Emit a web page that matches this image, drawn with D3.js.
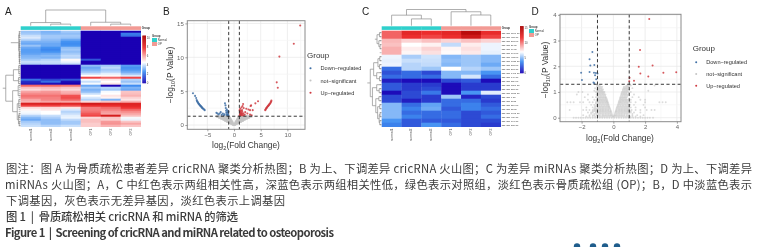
<!DOCTYPE html>
<html lang="en">
<head>
<meta charset="UTF-8">
<title>Figure 1</title>
<style>
  body { margin: 0; background: #fff; overflow: hidden; }
  svg { display: block; }
  text { font-family: "Liberation Sans", Arial, sans-serif; }
  .cap { font-family: "Noto Sans CJK SC", "Open Sans", sans-serif; font-size: 11.3px; fill: #3a3a3a; }
  .plots { filter: blur(0.5px); }
</style>
<script src="https://d3js.org/d3.v7.min.js"></script>
</head>
<body>
<svg id="fig" width="761" height="247"></svg>
<script>
const groupNames = ["Normal", "OP"];
const groupColors = ["#2fd0cc", "#f29a94"];
const volcanoGroups = ["Down\u2212regulated", "not\u2212significant", "Up\u2212regulated"];
const volcanoColors = ["#3f6fa5", "#c4c4c4", "#cf3a40"];

const colsA = ["normal1", "normal2", "normal3", "OP1", "OP2", "OP3"];
const colsC = ["normal1", "normal2", "normal3", "OP1", "OP2", "OP3"];

const heatA = [
  [3.5,3.2,3.6,0,0,0],[3.6,3.3,3.4,0,0,2.2],[4,3.6,3.6,0,0,2],[4.2,3.6,3.5,0,0,0],
  [3.8,3.4,3,0,0,0],[3.2,3.2,2.6,0,0,0],[3,3,2.5,0,0,0],[3.5,3,2.6,0,0,0],
  [3,2.6,3.4,0,0,0],[2.8,2.4,3.6,0,0,0],[2.8,2.6,3.4,0,0,0],[2.9,3,3.6,0,0,0],
  [3.2,3.3,3.9,0,0,0],[3.3,3.2,3.8,0,0,0],[3.6,3.8,4.7,1.5,0,0],[4,4,4.4,0,0,0],
  [3.8,3.9,4,0,0,0],[0,0,0,3.4,3.6,2.8],[0,0,0,3,3.9,2.6],[0,0,0,3.2,3.6,2.7],
  [0,0,0,3.5,3.8,3],[0,0,0,4,4.3,3.5],[0,0,0,4.6,4.7,4.2],[0,0,0,7.5,7,7.5],
  [2,1.2,1.5,4.5,5,3.8],[0.8,2,0.3,4,4.6,3.5],[0.5,0.3,0,4.5,5,4],[7,7,6.8,3,0,2.5],
  [5.6,5.7,5.5,3.6,3.8,3.2],[5.2,5.4,5.2,3.2,3.6,3],[6,6.2,5.8,3.4,4.5,5.5],[6.4,6.4,6,4,4.6,5.6],
  [6.8,6.8,7.3,4.6,5,5.8],[6.6,6.6,7.4,4.2,4.8,5.3],[6,6.5,7,3.8,3.2,5],[5.8,6,6,5.2,5.5,5.8],
  [8.6,8.6,8.4,9,8.6,8.4],[7.6,7.6,7.4,8,8,8.3],[5.2,5.2,5,6.6,6.9,7.8],[4.8,5,4.2,6.6,6.6,7],
  [4.5,4.6,3.8,6.8,6.2,6.4],[4.4,4.6,4,7.2,6,6],[3.8,4,4.3,7.5,8.8,5.6],[3.3,3.7,4.4,5.2,5.5,4.5],
  [3,3.4,3.9,5.6,5.4,4.4],[3.6,3.4,3.6,5.6,6.2,5.5],[3.8,3.4,3.6,5.4,6.3,6],[4,3.8,4,5.4,5.8,5.5]
];

const heatC = [
  [10.5,12.3,11.8,12.3,14.5,12],[10.5,11.8,11.2,11.8,13.5,11.3],[8.6,8,8.4,8,8.4,8],[8.4,7,7.3,6,7.4,6.7],
  [8.8,7.4,8,7.2,7.7,6.7],[8.8,7.2,7.7,7.1,7.5,6.6],[6.7,5.6,6.2,5,5.4,5],[6.6,6.1,6.1,5.2,5.4,5],
  [6.7,5.8,6,5,5.4,4.6],[3,5.8,5.4,7,5.8,5.4],[2.2,2.9,2,5,5,4],[2.9,2.9,2.9,5,6.3,2.9],
  [0.8,0.3,0.3,2,2.4,0.3],[2.4,1.6,1.6,0.3,1.6,1.6],[2.4,1.6,2,0.3,1.6,1.6],[0.3,2,3.2,0.3,4,6.5],
  [2,2,1.6,5.4,1,2],[2,0.8,1.6,2.9,2.9,1.6],[5,2.9,4.4,2.9,3.5,2.4],[5,3.5,4.6,2.4,3.5,2.9],
  [5,2.9,2.9,2.9,2,2.4],[5,3.5,2.9,2.9,2,2.9],[4,2.4,2.4,2.4,2,2],[3.5,2.4,4,2.9,2,1.6]
];

const rowsC = [
  "hsa-miR-1246-5p","hsa-miR-92a-3p","hsa-miR-26a-5p","hsa-miR-21-5p","hsa-miR-16-5p","hsa-miR-191-5p",
  "hsa-miR-423-5p","hsa-miR-103a-3p","hsa-miR-30d-5p","hsa-miR-27a-3p","hsa-miR-146a-5p","hsa-miR-140-3p",
  "hsa-miR-339-5p","hsa-miR-1307-3p","hsa-miR-221-3p","hsa-miR-151a-3p","hsa-miR-7-5p","hsa-miR-3615",
  "hsa-miR-324-5p","hsa-miR-32-5p","hsa-miR-1908-5p","hsa-miR-486-3p","hsa-miR-197-3p","hsa-miR-365-3p"
];

// dendrograms: [height, left, right], a plain number is a leaf
const topTreeA = [1, [0.2, 0, [0.1, 1, 2]], [0.22, 3, [0.1, 4, 5]]];
const topTreeC = [1, [0.65, 0, [0.42, 1, 2]], [0.86, 3, [0.66, 4, 5]]];
const rowTreesA = [
  [0.62, [0.1, [0.06, 0, 3], [0.07, [0.05, 4, 8], [0.06, [0.04, 10, 12], [0.05, 14, 16]]]]],
  [0.95, [0.45, [0.1, 17, 21], [0.12, 23, 26]], [0.5, [0.14, 27, 32], [0.2, [0.1, 34, 38], [0.12, [0.08, 41, 43], [0.07, 45, 47]]]]]
];
const rowTreesC = [
  [0.42, [0.28, [0.12, 0, 1], [0.16, 2, [0.08, 3, 4]]]],
  [0.72, [0.5, [0.22, [0.1, 6, 7], [0.12, 8, 9]], [0.3, 10, [0.12, 11, 12]]],
         [0.58, [0.3, 13, [0.14, 14, 15]], [0.36, [0.16, 16, 17], [0.24, [0.1, 18, 19], [0.14, [0.08, 20, 21], [0.1, 22, 23]]]]]]
];

const legendTicksA = [0, 2, 4, 6, 8, 10];
const legendTicksC = [0, 5, 10, 15];

const downB = [[-7.7,4.7],[-7.3,4.3],[-7.1,4],[-7,3.7],[-6.95,3.55],[-6.85,3.45],[-6.8,3.35],[-6.7,3.25],[-6.65,3.15],[-6.55,3.1],[-6.5,3],[-6.4,2.95],[-6.35,2.85],[-6.25,2.8],[-6.2,2.75],[-6.1,2.65],[-6,2.6],[-5.95,2.5],[-5.85,2.45],[-5.75,2.4],[-5.6,2.3],[-5.5,2.2],
  [-3.3,1.8],[-3.1,1.7],[-2.9,1.55],[-2.7,1.7],[-2.5,1.9],[-2.3,1.5],[-2.1,1.7],[-1.9,1.45],[-1.8,1.6],[-1.7,3.2],[-1.6,2.9],[-1.55,2.5],[-1.5,2.1],[-1.45,1.8],[-1.4,1.5],[-1.35,2.3],[-1.3,1.9],[-1.25,1.6],[-1.2,1.45],[-1.15,2.1],[-1.1,1.8],[-1.1,1.55],[-1.05,2],[-1.05,1.4]];
const upB = [[12.4,14.7],[11.2,12],[8.5,10.1],[8,6.3],[8.2,5.5],[7,3.6],[6.95,3.45],[6.85,3.35],[6.8,3.2],[6.7,3.15],[6.6,3.05],[6.55,2.95],[6.45,2.9],[6.4,2.8],[6.3,2.75],[6.2,2.65],[6.15,2.55],[6.05,2.5],[6,2.4],[5.9,2.3],[5.85,2.2],
  [4.5,3.5],[4,3.2],[3.2,2.9],[3.1,2.8],[3.5,2.2],[3,2.2],[2.7,2.3],[2.5,1.7],[2.3,2.4],[2.1,1.9],[3,1.55],[3.3,1.45],[1.7,3.1],[1.6,2.8],[1.8,2.5],[1.5,2.2],[1.4,2.6],[1.3,2.1],[1.25,1.8],[1.2,1.5],[1.15,2.4],[1.1,1.95],[1.1,1.6],[1.05,2.2],[1.05,1.4],[1.4,1.75],[1.6,1.6],[1.8,1.45],[1.35,1.5],[2,1.55],[1.5,1.4],[1.25,1.95],[1.55,1.95],[1.3,1.65],[1.7,1.75],[1.15,1.7]];
// grey points by level: [y, [x, ...]]
const greyLevelsB = [
  [1.25,[-3.2,-3,-2.75,-2.5,-2.25,-2,-1.75,-1.5,-1.25,-1,1,1.25,1.5,1.75,2,2.25,2.5,2.75,3,3.25]],
  [1.1,[-2.8,-2.55,-2.3,-2.05,-1.8,-1.55,-1.3,-1.05,-0.85,0.85,1.05,1.3,1.55,1.8,2.05,2.3,2.55,2.8]],
  [0.95,[-2.4,-2.15,-1.9,-1.65,-1.4,-1.15,-0.95,-0.75,0.75,0.95,1.15,1.4,1.65,1.9,2.15,2.4]],
  [0.8,[-2,-1.75,-1.5,-1.25,-1,-0.8,-0.62,0.62,0.8,1,1.25,1.5,1.75,2]],
  [0.65,[-1.65,-1.4,-1.15,-0.95,-0.72,-0.5,0.5,0.72,0.95,1.15,1.4,1.65]],
  [0.5,[-1.3,-1.05,-0.85,-0.6,-0.4,0.4,0.6,0.85,1.05,1.3]],
  [0.35,[-0.9,-0.7,-0.5,-0.3,0.3,0.5,0.7,0.9]],
  [0.2,[-0.55,-0.35,-0.15,0.15,0.35,0.55]],
  [0.05,[-0.2,0,0.2]]
];

const downD = [[-1.32,2.55],[-1.5,2.27],[-1.2,2.05],[-1.45,2.03],[-2.03,1.75],[-1.5,1.78],[-1.22,1.75],[-1.1,1.74],[-1,1.72],[-1.15,1.65],[-1.98,1.47],[-1.08,1.5],[-1.25,1.37],[-1.2,1.34]];
const upD = [[2.26,3.84],[1.68,2.63],[2.47,2.03],[1.6,1.98],[3.15,1.75],[3.96,1.77],[1.7,1.72],[2.2,1.6],[1.02,1.55],[1.3,1.44],[1,1.42]];
const greyLevelsD = [
  [1.25,[-1.02,-0.94,-0.86,0.82,0.9,1,1.1,2.6]],
  [1.2,[-1.02,-0.94,-0.86,-0.78,-0.7,0.66,0.74,0.82,0.9,0.98]],
  [1.15,[-1.15,-0.98,-0.9,-0.82,-0.74,0.64,0.72,0.8,0.88,1.2]],
  [1.1,[-1.05,-0.97,-0.89,-0.81,-0.73,-0.65,0.6,0.68,0.76,0.84,0.92,1]],
  [1.05,[-1.2,-1,-0.92,-0.84,-0.76,-0.68,0.6,0.7,0.8,0.88,2.2]],
  [1,[-2.2,-1.95,-1.1,-1.02,-0.94,-0.86,-0.78,-0.7,-0.62,-0.56,0.54,0.62,0.7,0.78,0.86,0.94,1.1]],
  [0.95,[-1,-0.9,-0.8,-0.7,-0.6,0.52,0.62,0.72,0.82]],
  [0.9,[-2.3,-1.6,-1.06,-0.98,-0.9,-0.82,-0.74,-0.66,-0.58,-0.5,0.5,0.58,0.66,0.74,0.82,0.9,1.3]],
  [0.85,[-1.02,-0.92,-0.82,-0.72,-0.62,-0.52,0.48,0.58,0.68,0.78,0.88]],
  [0.8,[-1.8,-1.3,-1.1,-1,-0.92,-0.84,-0.76,-0.68,-0.6,-0.52,-0.46,0.44,0.52,0.6,0.68,0.76,0.84,1.2,1.6]],
  [0.75,[-1,-0.9,-0.8,-0.7,-0.6,-0.5,-0.43,0.42,0.5,0.6,0.7,0.8]],
  [0.7,[-1.6,-1.2,-1.05,-0.96,-0.88,-0.8,-0.72,-0.64,-0.56,-0.48,-0.4,0.4,0.48,0.56,0.64,0.72,0.8,0.88,1.1,1.7,2]],
  [0.65,[-1.05,-0.95,-0.85,-0.75,-0.65,-0.55,-0.45,-0.38,0.36,0.45,0.55,0.65,0.75,0.85]],
  [0.6,[-2.9,-2.7,-2.5,-2.1,-1.9,-1.5,-1.3,-1.1,-1,-0.9,-0.8,-0.7,-0.6,-0.5,-0.42,-0.35,0.34,0.42,0.5,0.6,0.7,0.8,0.9,1,1.1,1.4,2,2.9,3.1,3.3]],
  [0.55,[-1.1,-1,-0.9,-0.8,-0.7,-0.6,-0.5,-0.4,-0.32,0.32,0.4,0.5,0.6,0.7,0.8,0.9]],
  [0.5,[-1.4,-1.2,-1.05,-0.95,-0.85,-0.75,-0.65,-0.55,-0.45,-0.36,-0.3,0.28,0.36,0.46,0.56,0.66,0.76,0.86,0.96,1.05,1.3,1.9]],
  [0.45,[-1.15,-1.05,-0.95,-0.85,-0.75,-0.65,-0.55,-0.45,-0.35,-0.27,0.26,0.35,0.45,0.55,0.65,0.75,0.85,0.95]],
  [0.4,[-1.7,-1.3,-1.15,-1,-0.9,-0.8,-0.7,-0.6,-0.5,-0.4,-0.3,-0.24,0.22,0.3,0.4,0.5,0.6,0.7,0.8,0.9,1,1.1,1.4,2]],
  [0.35,[-1.2,-1.1,-1,-0.9,-0.8,-0.7,-0.6,-0.5,-0.4,-0.3,-0.21,0.2,0.3,0.4,0.5,0.6,0.7,0.8,0.9,1]],
  [0.3,[-2.75,-1.9,-1.7,-1.5,-1.3,-1.2,-1.1,-1,-0.9,-0.8,-0.7,-0.6,-0.5,-0.4,-0.3,-0.18,0.18,0.3,0.4,0.5,0.6,0.7,0.8,0.9,1,1.15,1.4,1.7,2.1,2.4,2.6]],
  [0.25,[-1.3,-1.2,-1.1,-1,-0.9,-0.8,-0.7,-0.6,-0.5,-0.4,-0.3,-0.2,-0.15,0.15,0.2,0.3,0.4,0.5,0.6,0.7,0.8,0.9,1,1.1]],
  [0.2,[-1.6,-1.4,-1.3,-1.1,-1,-0.9,-0.8,-0.7,-0.6,-0.5,-0.4,-0.3,-0.2,-0.12,0.12,0.2,0.3,0.4,0.5,0.6,0.7,0.8,0.9,1.1,1.3,1.7]],
  [0.15,[-1.4,-1.2,-1.1,-1,-0.9,-0.8,-0.7,-0.6,-0.5,-0.4,-0.3,-0.2,-0.1,0.1,0.2,0.3,0.4,0.5,0.6,0.7,0.8,0.9,1,1.2]],
  [0.1,[-1.9,-1.5,-1.3,-1.2,-1.05,-0.95,-0.85,-0.7,-0.6,-0.5,-0.4,-0.3,-0.2,-0.13,-0.06,0.06,0.12,0.2,0.3,0.4,0.5,0.6,0.7,0.85,1,1.2,1.5,1.9]],
  [0.05,[-1.7,-1.5,-1.3,-1.15,-1,-0.9,-0.8,-0.7,-0.6,-0.5,-0.4,-0.3,-0.2,-0.1,-0.03,0.03,0.1,0.2,0.3,0.4,0.5,0.6,0.7,0.8,0.9,1.05,1.2,1.4,1.7]],
  [0,[-2.5,-2.35,-2.2,-2.05,-1.9,-1.75,-1.6,-1.45,-1.3,-1.15,-1,-0.85,-0.7,-0.55,-0.4,-0.25,-0.1,0.05,0.2,0.35,0.5,0.65,0.8,0.95,1.1,1.25,1.4,1.55,1.7,1.85,2,2.15,2.3,2.5]]
];

const captionLines = [
  "图注：图 A 为骨质疏松患者差异 cricRNA 聚类分析热图；B 为上、下调差异 cricRNA 火山图；C 为差异 miRNAs 聚类分析热图；D 为上、下调差异",
  "miRNAs 火山图；A，C 中红色表示两组相关性高，深蓝色表示两组相关性低，绿色表示对照组，淡红色表示骨质疏松组 (OP)；B，D 中淡蓝色表示",
  "下调基因，灰色表示无差异基因，淡红色表示上调基因",
  "图 1\u00a0\u00a0|\u00a0\u00a0骨质疏松相关 cricRNA 和 miRNA 的筛选",
  "Figure 1\u00a0\u00a0|\u00a0\u00a0Screening of cricRNA and miRNA related to osteoporosis"
];
const captionWidths = [746, 747, 279, 232, 329];
const captionStartX = [6, 5, 6, 6, 5];
const captionBaselines = [173, 189, 205, 221, 237];
const nextFigureDots = [577, 593, 605, 617];

const svg = d3.select("#fig");
const plots = svg.append("g").attr("class", "plots");

function heatColor(maxV, whiteAt) {
  return d3.scaleLinear()
    .domain([0, whiteAt * 0.55, whiteAt, whiteAt + (maxV - whiteAt) * 0.55, maxV])
    .range(["#1a00b4", "#3f8ff2", "#ffffff", "#ee2f2f", "#a80000"])
    .clamp(true);
}

// walks a [h, l, r] tree and returns the leaf-axis position of the node
function drawTree(g, node, along, across) {
  if (typeof node === "number") return { p: along(node), h: across(0) };
  if (node.length === 2) {
    const c = drawTree(g, node[1], along, across);
    return { p: c.p, h: c.h, root: true };
  }
  const a = drawTree(g, node[1], along, across);
  const b = drawTree(g, node[2], along, across);
  const h = across(node[0]);
  g.append("path").attr("d", g.attr("data-o") === "v"
    ? `M${a.p},${a.h}V${h}H${b.p}V${b.h}`
    : `M${a.h},${a.p}H${h}V${b.p}H${b.h}`);
  return { p: (a.p + b.p) / 2, h: h };
}

function heatmap(o) {
  const g = plots.append("g");
  const x = d3.scaleBand().domain(d3.range(o.columns.length)).range([o.x0, o.x1]);
  const y = d3.scaleBand().domain(d3.range(o.data.length)).range([o.y0, o.y1]);
  const color = heatColor(o.max, o.white);

  o.data.forEach((row, i) => {
    g.selectAll(null).data(row).join("rect")
      .attr("x", (d, j) => x(j)).attr("y", y(i))
      .attr("width", x.bandwidth() + 0.3).attr("height", y.bandwidth() + 0.3)
      .attr("fill", d => color(d));
  });

  // group bar
  g.selectAll(null).data(o.columns).join("rect")
    .attr("x", (d, j) => x(j)).attr("y", o.y0 - 4.4)
    .attr("width", x.bandwidth() + 0.3).attr("height", 3.6)
    .attr("fill", (d, j) => groupColors[j < 3 ? 0 : 1]);
  g.append("text").attr("x", o.x1 + 1).attr("y", o.y0 - 1.5)
    .attr("font-size", 2.8).attr("font-weight", "bold").attr("fill", "#333").text("Group");

  // column labels
  g.selectAll(null).data(o.columns).join("text")
    .attr("transform", (d, j) => `translate(${x(j) + x.bandwidth() / 2 + 1},${o.y1 + 2}) rotate(-90)`)
    .attr("text-anchor", "end").attr("font-size", 3.4).attr("fill", "#555").text(d => d);

  if (o.rowLabels) {
    g.selectAll(null).data(o.rowLabels).join("text")
      .attr("x", o.x1 + 1).attr("y", (d, i) => y(i) + y.bandwidth() / 2 + 0.8)
      .attr("font-size", 2.3).attr("fill", "#333").text(d => d);
  }

  // top dendrogram
  const topG = g.append("g").attr("data-o", "v").attr("fill", "none").attr("stroke", "#8c8c8c").attr("stroke-width", 0.7);
  const cols = i => x(i) + x.bandwidth() / 2;
  drawTree(topG, o.topTree, cols, d3.scaleLinear().domain([0, 1]).range([o.y0 - 5, o.topY]));

  // row dendrogram
  const rows = i => y(i) + y.bandwidth() / 2;
  const across = d3.scaleLinear().domain([0, 1]).range([o.x0 - 0.4, o.rowX]);
  o.rowTrees.forEach(t => {
    const rg = g.append("g").attr("data-o", "h").attr("fill", "none").attr("stroke", "#8c8c8c").attr("stroke-width", 0.7);
    const r = drawTree(rg, t[1], rows, across);
    if (t.length === 2) rg.append("path").attr("d", `M${r.h},${r.p}H${across(t[0])}`);
    else {
      const a = drawTree(rg, t[2], rows, across);
      const h = across(t[0]);
      rg.append("path").attr("d", `M${r.h},${r.p}H${h}V${a.p}H${a.h}M${h},${(r.p + a.p) / 2}H${h - 3}`);
    }
  });
  // short leaf ticks next to the cells
  g.append("g").selectAll("line").data(o.data).join("line")
    .attr("x1", o.x0 - 2).attr("x2", o.x0 - 0.2)
    .attr("y1", (d, i) => rows(i)).attr("y2", (d, i) => rows(i))
    .attr("stroke", "#777").attr("stroke-width", 0.5);

  // colour bar
  const ly = d3.scaleLinear().domain([0, o.max]).range([o.ly1, o.ly0]);
  const bar = d3.range(o.ly0, o.ly1, 0.5);
  g.selectAll(null).data(bar).join("rect")
    .attr("x", o.lx).attr("y", d => d).attr("width", 3.6).attr("height", 0.8)
    .attr("fill", d => color(ly.invert(d)));
  g.selectAll(null).data(o.legendTicks).join("text")
    .attr("x", o.lx + 4.4).attr("y", d => ly(d) + 1)
    .attr("font-size", 2.8).attr("fill", "#444").text(d => d);

  // group legend
  const lg = g.append("g").attr("transform", `translate(${o.gx},${o.gy})`);
  lg.append("text").attr("y", 1.5).attr("font-size", 2.8).attr("font-weight", "bold").attr("fill", "#333").text("Group");
  lg.selectAll("rect").data(groupNames).join("rect")
    .attr("y", (d, i) => 3 + i * 4).attr("width", 5).attr("height", 4).attr("fill", (d, i) => groupColors[i]);
  lg.selectAll("text.n").data(groupNames).join("text").attr("class", "n")
    .attr("x", 5.8).attr("y", (d, i) => 6 + i * 4).attr("font-size", 2.8).attr("fill", "#333").text(d => d);
}

function volcano(o) {
  const g = plots.append("g");
  const x = d3.scaleLinear().domain(o.xDomain).range([o.px0, o.px1]);
  const y = d3.scaleLinear().domain(o.yDomain).range([o.py1, o.py0]);

  g.append("g").selectAll("line").data(o.xMinor.concat(o.xTicks)).join("line")
    .attr("x1", d => x(d)).attr("x2", d => x(d)).attr("y1", o.py0).attr("y2", o.py1)
    .attr("stroke", (d, i) => i < o.xMinor.length ? "#f3f3f3" : "#e6e6e6").attr("stroke-width", 0.7);
  g.append("g").selectAll("line").data(o.yMinor.concat(o.yTicks)).join("line")
    .attr("y1", d => y(d)).attr("y2", d => y(d)).attr("x1", o.px0).attr("x2", o.px1)
    .attr("stroke", (d, i) => i < o.yMinor.length ? "#f3f3f3" : "#e6e6e6").attr("stroke-width", 0.7);

  const greyPts = o.grey.flatMap(([yv, xs]) => xs.map(xv => [xv, yv]));
  const dots = (pts, c, r, a) => g.append("g").selectAll("circle").data(pts).join("circle")
    .attr("cx", d => x(d[0])).attr("cy", d => y(d[1])).attr("r", r).attr("fill", c).attr("opacity", a);
  dots(greyPts, volcanoColors[1], o.rGrey, o.greyOpacity);
  dots(o.down, volcanoColors[0], o.r, 0.85);
  dots(o.up, volcanoColors[2], o.r, 0.85);

  const dash = g.append("g").attr("stroke", "#222").attr("stroke-width", 0.9).attr("stroke-dasharray", "3.2,2.4");
  [-1, 1].forEach(v => dash.append("line").attr("x1", x(v)).attr("x2", x(v)).attr("y1", o.py0).attr("y2", o.py1));
  dash.append("line").attr("x1", o.px0).attr("x2", o.px1).attr("y1", y(1.3)).attr("y2", y(1.3));

  g.append("rect").attr("x", o.px0).attr("y", o.py0).attr("width", o.px1 - o.px0).attr("height", o.py1 - o.py0)
    .attr("fill", "none").attr("stroke", "#8a8a8a").attr("stroke-width", 1);

  const fmt = d => String(d).replace("-", "\u2212");
  const ax = g.append("g").attr("transform", `translate(0,${o.py1})`)
    .call(d3.axisBottom(x).tickValues(o.xTicks).tickSize(2).tickPadding(1.5).tickFormat(fmt));
  const ay = g.append("g").attr("transform", `translate(${o.px0},0)`)
    .call(d3.axisLeft(y).tickValues(o.yTicks).tickSize(2).tickPadding(1.5).tickFormat(fmt));
  [ax, ay].forEach(a => {
    a.select(".domain").remove();
    a.selectAll("line").attr("stroke", "#666").attr("stroke-width", 0.6);
    a.selectAll("text").attr("font-size", 6).attr("fill", "#666").attr("font-family", "Liberation Sans");
  });

  const xt = g.append("text").attr("x", o.xtx).attr("y", o.xty).attr("text-anchor", "middle")
    .attr("font-size", 8.4).attr("fill", "#333");
  xt.append("tspan").text("log");
  xt.append("tspan").attr("dy", 1.8).attr("font-size", 5.6).text("2");
  xt.append("tspan").attr("dy", -1.8).text("(Fold Change)");

  const yt = g.append("text").attr("transform", `translate(${o.ytx},${o.yty}) rotate(-90)`).attr("text-anchor", "middle")
    .attr("font-size", 8.4).attr("fill", "#333");
  yt.append("tspan").text("\u2212log");
  yt.append("tspan").attr("dy", 1.8).attr("font-size", 5.6).text("10");
  yt.append("tspan").attr("dy", -1.8).text("(P Value)");

  g.append("text").attr("x", o.lgx).attr("y", o.lgy).attr("font-size", 8).attr("fill", "#333").text("Group");
  const lg = g.append("g");
  lg.selectAll("circle").data(volcanoGroups).join("circle")
    .attr("cx", o.lgx + 3.5).attr("cy", (d, i) => o.lgy + o.lg0 + i * o.lgStep).attr("r", o.r)
    .attr("fill", (d, i) => volcanoColors[i]);
  lg.selectAll("text").data(volcanoGroups).join("text")
    .attr("x", o.lgx + 13.5).attr("y", (d, i) => o.lgy + o.lg0 + 2 + i * o.lgStep)
    .attr("font-size", 5.6).attr("fill", "#333").text(d => d);
}

heatmap({
  data: heatA, columns: colsA, max: 10.5, white: 4.6,
  x0: 20.7, x1: 140.7, y0: 30.7, y1: 126.7, topY: 10, rowX: 5,
  topTree: topTreeA, rowTrees: rowTreesA,
  lx: 142.4, ly0: 35.5, ly1: 83, legendTicks: legendTicksA, gx: 152, gy: 35
});
heatmap({
  data: heatC, columns: colsC, rowLabels: rowsC, max: 15.5, white: 7,
  x0: 381.7, x1: 500.7, y0: 30.7, y1: 126.7, topY: 9.5, rowX: 366,
  topTree: topTreeC, rowTrees: rowTreesC,
  lx: 520, ly0: 26, ly1: 73, legendTicks: legendTicksC, gx: 529, gy: 26
});

volcano({
  px0: 187.3, px1: 305, py0: 20.7, py1: 129.3, r: 1.05, rGrey: 1.3, greyOpacity: 0.9,
  xDomain: [-8.76, 13.3], yDomain: [-0.63, 15.4],
  xTicks: [-5, 0, 5, 10], yTicks: [0, 5, 10, 15], xMinor: [-7.5, -2.5, 2.5, 7.5, 12.5], yMinor: [2.5, 7.5, 12.5],
  down: downB, up: upB, grey: greyLevelsB,
  xtx: 246, xty: 148, ytx: 173, yty: 75, lgx: 307, lgy: 58, lg0: 10.3, lgStep: 12.2
});
volcano({
  px0: 560, px1: 681, py0: 14.3, py1: 121.7, r: 1, rGrey: 0.95, greyOpacity: 0.6,
  xDomain: [-3.36, 4.26], yDomain: [-0.155, 4.02],
  xTicks: [-2, 0, 2, 4], yTicks: [0, 1, 2, 3, 4], xMinor: [-3, -1, 1, 3], yMinor: [0.5, 1.5, 2.5, 3.5],
  down: downD, up: upD, grey: greyLevelsD,
  xtx: 620, xty: 141, ytx: 548, yty: 70, lgx: 692.7, lgy: 51, lg0: 11.3, lgStep: 11.7
});

// panel letters
const panelLetters = ["A", "B", "C", "D"];
const panelLetterX = [5, 163, 362, 531.5];
svg.selectAll("text.letter").data(panelLetters).join("text").attr("class", "letter")
  .attr("x", (d, i) => panelLetterX[i]).attr("y", 15)
  .attr("font-size", 10).attr("fill", "#222").text(d => d);

svg.selectAll("text.cap").data(captionLines).join("text").attr("class", "cap")
  .attr("x", (d, i) => captionStartX[i]).attr("y", (d, i) => captionBaselines[i])
  .attr("textLength", (d, i) => captionWidths[i]).attr("lengthAdjust", "spacing")
  .attr("font-weight", (d, i) => i === 3 ? 500 : i === 4 ? 700 : 400)
  .text(d => d);

svg.selectAll("circle.next").data(nextFigureDots).join("circle").attr("class", "next")
  .attr("cx", d => d).attr("cy", 246.5).attr("r", 3.2).attr("fill", "#1f5d8c");
</script>
</body>
</html>
